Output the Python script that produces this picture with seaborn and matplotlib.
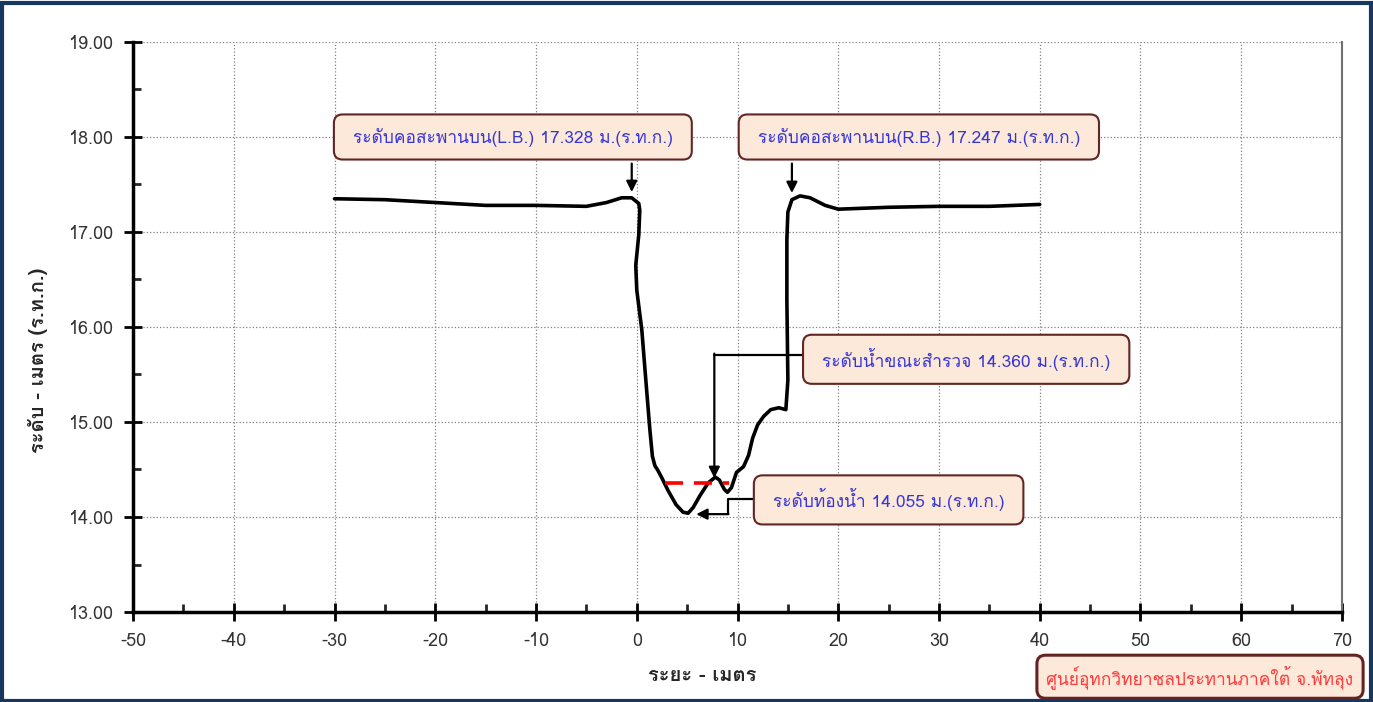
import numpy as np
import pandas as pd
import matplotlib
matplotlib.use("Agg")
import matplotlib.pyplot as plt
import seaborn as sns
from matplotlib.patches import Rectangle
from matplotlib.ticker import MultipleLocator, FormatStrFormatter

# Cross-section survey (distance m, elevation m MSL)
distance = [-30, -25, -20, -15, -10, -5, -3, -1.5, -0.5, 0.2, 0.3, 0.2, -0.1, 0.0, 0.5,
            0.9, 1.3, 1.55, 1.8, 2.1, 2.5, 3.1, 3.9, 4.6, 5.1, 5.6, 6.3, 7.1, 7.8, 8.2,
            8.7, 9.0, 9.4, 9.9, 10.6, 11.1, 11.5, 12.0, 12.6, 13.3, 14.1, 14.8, 15.0,
            14.9, 14.9, 15.0, 15.4, 16.2, 17.2, 18.7, 20, 25, 30, 35, 40]
elevation = [17.35, 17.34, 17.31, 17.28, 17.28, 17.27, 17.31, 17.36, 17.36, 17.30, 17.23,
             16.97, 16.65, 16.39, 15.97, 15.44, 14.92, 14.64, 14.54, 14.49, 14.41, 14.28,
             14.13, 14.05, 14.04, 14.10, 14.23, 14.36, 14.42, 14.39, 14.29, 14.26, 14.31,
             14.47, 14.53, 14.65, 14.83, 14.97, 15.06, 15.13, 15.15, 15.13, 15.44, 16.28,
             16.92, 17.21, 17.34, 17.38, 17.36, 17.28, 17.24, 17.26, 17.27, 17.27, 17.29]

# Water surface during survey
water_x = [2.8, 9.2]
water_level = 14.360

labels = [
    "ระดับคอสะพานบน(L.B.) 17.328 ม.(ร.ท.ก.)",
    "ระดับคอสะพานบน(R.B.) 17.247 ม.(ร.ท.ก.)",
    "ระดับน้ำขณะสำรวจ 14.360 ม.(ร.ท.ก.)",
    "ระดับท้องน้ำ 14.055 ม.(ร.ท.ก.)",
]
footer = "ศูนย์อุทกวิทยาชลประทานภาคใต้ จ.พัทลุง"
xlabel = "ระยะ - เมตร"
ylabel = "ระดับ - เมตร (ร.ท.ก.)"

sns.set_theme(style="white")
plt.rcParams["font.family"] = ["Loma", "DejaVu Sans"]
plt.rcParams["axes.unicode_minus"] = False

fig = plt.figure(figsize=(13.73, 7.02), dpi=100)
ax = fig.add_axes([0.0969, 0.1282, 0.8805, 0.812])

profile = pd.DataFrame({"x": distance, "y": elevation})
sns.lineplot(data=profile, x="x", y="y", sort=False, estimator=None, color="black",
             linewidth=2.6, ax=ax, solid_joinstyle="round", solid_capstyle="round")

water = pd.DataFrame({"x": water_x, "y": [water_level] * 2})
sns.lineplot(data=water, x="x", y="y", sort=False, estimator=None, color="#ff0000",
             linewidth=2.6, ax=ax, linestyle=(0, (5, 3)))

ax.set_xlim(-50, 70)
ax.set_ylim(13, 19)
ax.xaxis.set_major_locator(MultipleLocator(10))
ax.xaxis.set_minor_locator(MultipleLocator(5))
ax.yaxis.set_major_locator(MultipleLocator(1))
ax.yaxis.set_minor_locator(MultipleLocator(0.5))
ax.yaxis.set_major_formatter(FormatStrFormatter("%.2f"))
ax.grid(True, which="major", color="#808080", linestyle=":", linewidth=0.9)
ax.tick_params(which="major", direction="inout", length=13, width=2, labelsize=13,
               colors="black", labelcolor="#333333", pad=8)
ax.tick_params(which="minor", direction="in", length=6, width=2)
ax.tick_params(axis="x", which="both", bottom=True)
ax.tick_params(axis="y", which="both", left=True)
for s in ["left", "bottom"]:
    ax.spines[s].set_color("black")
    ax.spines[s].set_linewidth(2.5)
ax.spines["top"].set_visible(False)
ax.spines["right"].set_color("#707070")
ax.spines["right"].set_linewidth(1.5)

ax.set_xlabel(xlabel, fontsize=14.5, fontweight="bold")
ax.set_ylabel(ylabel, fontsize=14.5, fontweight="bold")
ax.xaxis.set_label_coords(0.4706, -0.094)
ax.yaxis.set_label_coords(-0.07, 0.442)

box = dict(boxstyle="round,pad=0.75,rounding_size=0.5", facecolor="#fde9d9",
           edgecolor="#632523", linewidth=1.5)
blue = "#3636d8"
arrow = dict(arrowstyle="-|>", color="black", lw=1.6, mutation_scale=16, shrinkA=0, shrinkB=0)

# bank level callouts
ax.text(-12.3, 18.0, " " + labels[0] + " ", ha="center", va="center", fontsize=12.5,
        color=blue, bbox=box)
ax.annotate("", xy=(-0.5, 17.42), xytext=(-0.5, 17.72), arrowprops=arrow)
ax.text(28.0, 18.0, " " + labels[1] + " ", ha="center", va="center", fontsize=12.5,
        color=blue, bbox=box)
ax.annotate("", xy=(15.4, 17.41), xytext=(15.4, 17.72), arrowprops=arrow)

# water level callout
ax.text(32.7, 15.66, " " + labels[2] + " ", ha="center", va="center", fontsize=12.5,
        color=blue, bbox=box)
ax.plot([16.7, 7.7], [15.71, 15.71], color="black", lw=1.6)
ax.annotate("", xy=(7.7, water_level + 0.05), xytext=(7.7, 15.72), arrowprops=arrow)

# bed level callout
ax.text(25.0, 14.18, " " + labels[3] + " ", ha="center", va="center", fontsize=12.5,
        color=blue, bbox=box)
ax.plot([12.5, 9.1, 9.1], [14.19, 14.19, 14.03], color="black", lw=1.6)
ax.annotate("", xy=(5.9, 14.03), xytext=(9.1, 14.03), arrowprops=arrow)

fig.text(0.874, 0.036, footer, ha="center", va="center", fontsize=12.5, color="#ff3b3b",
         bbox=dict(boxstyle="round,pad=0.55,rounding_size=0.5", facecolor="#fde9d9",
                   edgecolor="#632523", linewidth=2.2))

# outer frame
fig.patches.append(Rectangle((0.0015, 0.002), 0.997, 0.994, transform=fig.transFigure,
                             fill=False, edgecolor="#17375e", linewidth=3))

fig.savefig("out.png", dpi=100)
